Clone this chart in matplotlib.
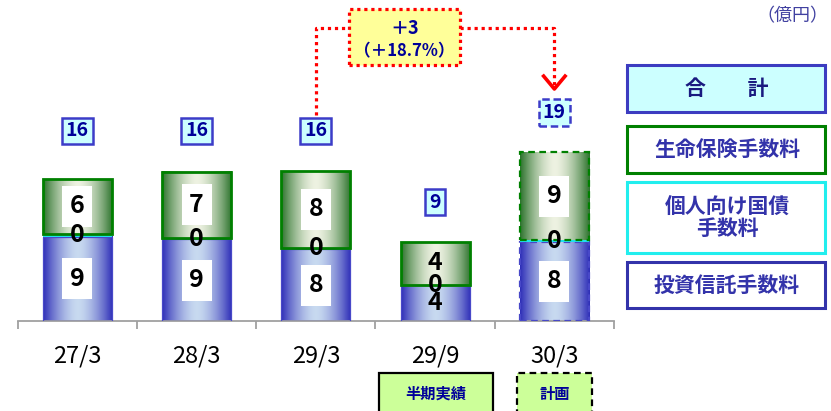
import numpy as np
import matplotlib
matplotlib.use('Agg')
import matplotlib.pyplot as plt
from matplotlib.patches import Rectangle

plt.rcParams['font.family'] = ['Noto Sans CJK JP', 'DejaVu Sans']

# 데이터 (億円)
periods = ['27/3', '28/3', '29/3', '29/9', '30/3']
toushin = np.array([9.5, 9.2, 8.1, 4.0, 8.9])      # 投資信託手数料
kokusai = np.array([0.35, 0.15, 0.15, 0.1, 0.2])   # 個人向け国債手数料
seimei = np.array([6.15, 7.45, 8.65, 4.8, 9.9])    # 生命保険手数料
toushin_lbl = ['9', '9', '8', '4', '8']
kokusai_lbl = ['0', '0', '0', '0', '0']
seimei_lbl = ['6', '7', '8', '4', '9']
total_lbl = ['16', '16', '16', '9', '19']
diff_lbl = ['＋3', '（＋18.7%）']

# 스타일
boxed = [True, True, True, False, True]
plan = [False, False, False, False, True]
NAVY = '#000099'
LEG = '#3333AA'
RED = '#FF0000'

W, H = 831, 411
PX = 8.88          # px / 億円
BASE = 321         # baseline (px from top)
X0, X1 = 17.7, 614
XPX = (X1 - X0) / 5


def yd(py):
    return (BASE - py) / PX


def xd(px):
    return (px - X0) / XPX - 0.5


def grad(edge, center, n=80):
    t = np.abs(np.linspace(-1, 1, n)) ** 1.6
    edge = np.array(matplotlib.colors.to_rgb(edge))
    center = np.array(matplotlib.colors.to_rgb(center))
    return (center[None, :] * (1 - t[:, None]) + edge[None, :] * t[:, None])[None, :, :]


fig = plt.figure(figsize=(W / 100, H / 100), dpi=100)
ax = fig.add_axes([X0 / W, (H - BASE) / H, (X1 - X0) / W, BASE / H])

x = np.arange(len(periods))
bw = 0.58

b1 = ax.bar(x, toushin, bw, facecolor='none', edgecolor='#4848C8', lw=0.9, zorder=3)
b2 = ax.bar(x, kokusai, bw, bottom=toushin, color='#22E0EE', lw=0, zorder=3)
b3 = ax.bar(x, seimei, bw, bottom=toushin + kokusai, facecolor='none',
            edgecolor='#008000', lw=2.0, zorder=3)

blue_img = grad('#2F2FB8', '#C8DAF0')
green_img = grad('#2E742E', '#EEF2E2')
for bars, img in [(b1, blue_img), (b3, green_img)]:
    for i, p in enumerate(bars):
        ax.imshow(img, extent=(p.get_x(), p.get_x() + p.get_width(),
                               p.get_y(), p.get_y() + p.get_height()),
                  aspect='auto', interpolation='bilinear', zorder=2)
        if plan[i]:
            p.set_linestyle((0, (3, 2)))
            p.set_linewidth(1.6)

# 값 라벨 (흰 상자 30x41 px)
lw_, lh_ = 30 / XPX, 41 / PX
for i in range(len(x)):
    yb = toushin[i] / 2
    yg = toushin[i] + kokusai[i] + seimei[i] / 2
    for yy, s in [(yb, toushin_lbl[i]), (yg, seimei_lbl[i])]:
        if boxed[i]:
            ax.add_patch(Rectangle((x[i] - lw_ / 2, yy - lh_ / 2), lw_, lh_,
                                   fc='white', ec='none', zorder=4))
        ax.text(x[i], yy, s, ha='center', va='center', fontsize=18,
                fontweight='bold', color='black', zorder=5)
    ax.text(x[i], toushin[i] + kokusai[i] / 2, kokusai_lbl[i], ha='center', va='center',
            fontsize=18, fontweight='bold', color='black', zorder=6)

# 합계 라벨
tops = toushin + kokusai + seimei
ty = tops + 4.5
ty[:3] = ty[:3].max()
for i in range(len(x)):
    ax.text(x[i], ty[i], total_lbl[i], ha='center', va='center', fontsize=14,
            fontweight='bold', color=NAVY, zorder=6,
            bbox=dict(boxstyle='square,pad=0.2', fc='#CCFFFF', ec='#3C3CC8', lw=1.8,
                      ls=(0, (3, 1.5)) if plan[i] else '-'))

# 증감 표시 (29/3 -> 30/3)
dot = dict(color=RED, lw=2.3, ls=(0, (1, 1.2)), dash_capstyle='butt', clip_on=False, zorder=4)
yl = yd(28)
bx0, bx1 = xd(349), xd(460)
tip = yd(89)
ax.plot([x[2], x[2], bx0], [ty[2] + 1.8, yl, yl], **dot)
ax.plot([bx1, x[4], x[4]], [yl, yl, tip + 0.3], **dot)
ax.plot([x[4] - 0.09, x[4], x[4] + 0.09], [tip + 1.45, tip, tip + 1.45],
        color=RED, lw=2.6, clip_on=False, zorder=4)
ax.add_patch(Rectangle((bx0, yd(65)), bx1 - bx0, yd(9) - yd(65), fc='#FFFF99',
                       ec=RED, lw=2.3, ls=(0, (1, 1.2)), clip_on=False, zorder=4))
xc = (bx0 + bx1) / 2
ax.text(xc, yd(29), diff_lbl[0], ha='center', va='center', fontsize=13,
        fontweight='bold', color=NAVY, zorder=5)
ax.text(xc, yd(51), diff_lbl[1], ha='center', va='center', fontsize=12,
        fontweight='bold', color=NAVY, zorder=5)

# 축
ax.set_xlim(-0.5, 4.5)
ax.set_ylim(0, BASE / PX)
for s in ['top', 'left', 'right']:
    ax.spines[s].set_visible(False)
ax.spines['bottom'].set_color('#A0A0A0')
ax.spines['bottom'].set_linewidth(1.3)
ax.set_yticks([])
ax.set_xticks(np.arange(-0.5, 5))
ax.tick_params(axis='x', length=6, width=1.3, color='#A0A0A0', labelbottom=False)
ax.patch.set_visible(False)

for i, p in enumerate(periods):
    ax.text(x[i], yd(356), p, ha='center', va='center', fontsize=17,
            color='black', clip_on=False)


def frect(x0, y0, x1, y1, **kw):
    fig.add_artist(Rectangle((x0 / W, 1 - y1 / H), (x1 - x0) / W, (y1 - y0) / H,
                             transform=fig.transFigure, **kw))


def ftext(px, py, s, **kw):
    fig.text(px / W, 1 - py / H, s, **kw)


# 아래 구분 상자
frect(379, 373, 493, 420, fc='#CCFF99', ec='black', lw=1.6)
ftext(436, 394, '半期実績', ha='center', va='center', fontsize=11, fontweight='bold', color=NAVY)
frect(517, 373, 592, 420, fc='#CCFF99', ec='black', lw=1.6, ls=(0, (3, 2)))
ftext(554.5, 394, '計画', ha='center', va='center', fontsize=11, fontweight='bold', color=NAVY)

# 범례
ftext(828, 16, '（億円）', ha='right', va='center', fontsize=13, color='#4040A0')
frect(627, 65, 825, 112, fc='#CCFFFF', ec='#3C3CC0', lw=2.2)
ftext(727, 88.5, '合　　計', ha='center', va='center', fontsize=15, fontweight='bold', color='#1A1A80')
frect(627, 126, 825, 173, fc='white', ec='#008000', lw=2.2)
ftext(727, 149.5, '生命保険手数料', ha='center', va='center', fontsize=15, fontweight='bold', color=LEG)
frect(627, 182, 825, 253, fc='white', ec='#22EEEE', lw=2.2)
ftext(727, 217.5, '個人向け国債\n手数料', ha='center', va='center', fontsize=15,
      fontweight='bold', color=LEG, linespacing=1.1)
frect(627, 262, 825, 308, fc='white', ec='#3333AA', lw=2.2)
ftext(727, 285, '投資信託手数料', ha='center', va='center', fontsize=15, fontweight='bold', color=LEG)

fig.savefig('out.png', dpi=100)
